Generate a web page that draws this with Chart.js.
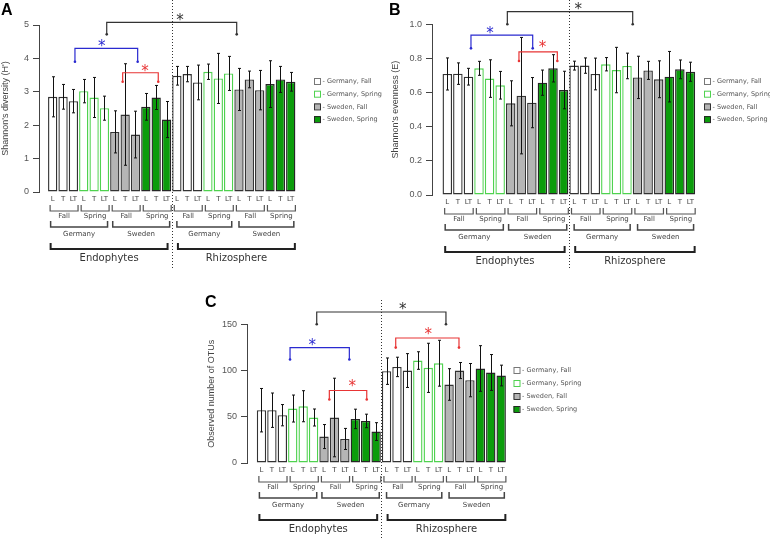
<!DOCTYPE html>
<html><head><meta charset="utf-8">
<script src="https://cdn.jsdelivr.net/npm/chart.js@4.4.1/dist/chart.umd.min.js"></script>
<style>
html,body{margin:0;padding:0;background:#fff;width:770px;height:538px;overflow:hidden}
.p{position:absolute}
canvas{display:block}
</style></head><body>
<div class="p" style="left:0;top:0"><canvas id="cA" width="385" height="270"></canvas></div>
<div class="p" style="left:385px;top:0"><canvas id="cB" width="385" height="270"></canvas></div>
<div class="p" style="left:150px;top:270px"><canvas id="cC" width="450" height="268"></canvas></div>
<script>
// ---------- data ----------
const tickLabels = ['L','T','LT','L','T','LT','L','T','LT','L','T','LT','L','T','LT','L','T','LT','L','T','LT','L','T','LT'];
const seriesNames = ['Germany, Fall','Germany, Spring','Sweden, Fall','Sweden, Spring'];
const seasonLabels = ['Fall','Spring','Fall','Spring','Fall','Spring','Fall','Spring'];
const countryLabels = ['Germany','Sweden','Germany','Sweden'];
const compartmentLabels = ['Endophytes','Rhizosphere'];

const shannonH   = [2.85,2.85,2.72, 3.02,2.83,2.51, 1.80,2.32,1.72, 2.55,2.83,2.17, 3.48,3.53,3.28, 3.60,3.40,3.55, 3.07,3.37,3.05, 3.23,3.37,3.30];
const shannonHSd = [0.60,0.37,0.35, 0.35,0.60,0.36, 0.63,1.52,0.70, 0.40,0.36,0.54, 0.28,0.23,0.52, 0.23,0.75,0.51, 0.63,0.25,0.59, 0.70,0.39,0.28];

const evenness   = [0.709,0.711,0.693, 0.742,0.682,0.643, 0.537,0.582,0.541, 0.658,0.742,0.615, 0.758,0.758,0.709, 0.766,0.732,0.756, 0.689,0.730,0.678, 0.693,0.736,0.722];
const evennessSd = [0.094,0.063,0.049, 0.041,0.110,0.081, 0.132,0.341,0.147, 0.074,0.080,0.110, 0.026,0.045,0.093, 0.039,0.133,0.075, 0.124,0.053,0.108, 0.148,0.055,0.056];

const otus   = [57.1,57.1,51.7, 58.9,61.4,49.2, 28.6,49.2,26.0, 47.7,45.5,34.0, 99.3,103.9,100.0, 110.8,102.9,107.9, 84.9,100.0,89.6, 102.2,97.9,94.6];
const otusSd = [23.5,18.6,11.5, 14.6,16.8,9.2, 13.0,42.5,11.4, 10.5,7.3,9.6, 14.3,10.5,18.3, 9.5,26.6,24.8, 17.1,8.7,18.0, 24.7,19.4,11.2];

// significance brackets: [fromIndex, toIndex, lineValue, tipValue, starIndex, starValue, colour]
const sigA = [[5.22,17.78,5.08,4.72,12.3,5.2,'#333'],[2.15,8.21,4.30,3.90,4.73,4.42,'#2a2ad0'],[6.76,10.2,3.57,3.30,8.92,3.68,'#e83535']];
const sigB = [[5.68,17.54,1.074,1.0,12.4,1.103,'#333'],[2.24,8.08,0.937,0.859,4.04,0.963,'#2a2ad0'],[6.78,10.41,0.839,0.785,9.0,0.879,'#e83535']];
const sigC = [[5.3,17.7,163.3,150,13.55,168.7,'#333'],[2.74,8.43,124.8,111.9,4.88,129.8,'#2a2ad0'],[6.51,10.1,78.4,68.7,8.72,84.9,'#e83535'],[12.88,18.95,135.2,124.8,16.0,141.7,'#e83535']];

// ---------- styles ----------
const fills   = ['#ffffff','#ffffff','#b5b5b5','#0b9c0b'];
const borders = ['#333333','#4fd24f','#333333','#262626'];

const panels = [
  {id:'cA', letter:'A', values:shannonH, sd:shannonHSd, sig:sigA, yTitle:"Shannon's diversity (H')", yMax:5, step:1, dec:0,
   L:{padLeft:0, yW:39, xMin:-1.324, padRight:89.1, top:25, xH:78, dotTop:0, dotBot:268, legX:314, legY:81, legStep:12.7, letterX:1, letterY:11}},
  {id:'cB', letter:'B', values:evenness, sd:evennessSd, sig:sigB, yTitle:"Shannon's evenness (E)", yMax:1, step:0.2, dec:1,
   L:{padLeft:5.6, yW:41.4, xMin:-1.447, padRight:74.3, top:24.3, xH:75, dotTop:0, dotBot:268, legX:319, legY:81, legStep:12.7, letterX:4, letterY:11}},
  {id:'cC', letter:'C', values:otus, sd:otusSd, sig:sigC, yTitle:'Observed number of OTUs', yMax:150, step:50, dec:0,
   L:{padLeft:56.6, yW:40.4, xMin:-1.39, padRight:93.6, top:54.3, xH:75, dotTop:30, dotBot:268, legX:363.5, legY:100, legStep:13, letterX:55, letterY:33}}
];

function seriesOf(i){ return Math.floor((i % 12) / 3); }

function makePlugin(p){
  return {
    id:'annot'+p.letter,
    afterDatasetsDraw(chart){
      const ctx = chart.ctx, xs = chart.scales.x, ys = chart.scales.y, ca = chart.chartArea, L = p.L;
      ctx.save();
      // error bars
      ctx.strokeStyle = '#111'; ctx.lineWidth = 1;
      p.values.forEach((v,i)=>{
        const x = Math.round(xs.getPixelForValue(i)) + 0.5;
        const y1 = ys.getPixelForValue(v + p.sd[i]), y2 = ys.getPixelForValue(Math.max(0, v - p.sd[i]));
        ctx.beginPath();
        ctx.moveTo(x, y1); ctx.lineTo(x, y2);
        ctx.moveTo(x-1.5, y1); ctx.lineTo(x+1.5, y1);
        ctx.moveTo(x-1.5, y2); ctx.lineTo(x+1.5, y2);
        ctx.stroke();
      });
      // dotted separator
      const xd = Math.round(xs.getPixelForValue(11.5)) + 0.5;
      ctx.strokeStyle = '#333'; ctx.setLineDash([1,2]);
      ctx.beginPath(); ctx.moveTo(xd, L.dotTop); ctx.lineTo(xd, L.dotBot); ctx.stroke();
      ctx.setLineDash([]);
      // significance brackets
      p.sig.forEach(s=>{
        const [a,b,lv,tv,sx,sv,col] = s;
        const x1 = xs.getPixelForValue(a), x2 = xs.getPixelForValue(b);
        const yl = ys.getPixelForValue(lv), yt = ys.getPixelForValue(tv);
        ctx.strokeStyle = col; ctx.fillStyle = col; ctx.lineWidth = 1.2;
        ctx.beginPath(); ctx.moveTo(x1, yt); ctx.lineTo(x1, yl); ctx.lineTo(x2, yl); ctx.lineTo(x2, yt); ctx.stroke();
        [x1,x2].forEach(x=>{ ctx.beginPath(); ctx.arc(x, yt, 1.3, 0, Math.PI*2); ctx.fill(); });
        ctx.font = '15px "DejaVu Sans"'; ctx.textAlign = 'center'; ctx.textBaseline = 'middle';
        ctx.fillText('*', xs.getPixelForValue(sx), ys.getPixelForValue(sv) + 3);
      });
      // group brackets below axis
      const yb = ca.bottom;
      const bracket = (a,b,yTop,yBot,col,w)=>{
        const x1 = xs.getPixelForValue(a), x2 = xs.getPixelForValue(b);
        ctx.strokeStyle = col; ctx.lineWidth = w;
        ctx.beginPath(); ctx.moveTo(x1, yb+yTop); ctx.lineTo(x1, yb+yBot); ctx.lineTo(x2, yb+yBot); ctx.lineTo(x2, yb+yTop); ctx.stroke();
      };
      const label = (t, a, b, yOff, font, col)=>{
        ctx.font = font; ctx.fillStyle = col; ctx.textAlign = 'center'; ctx.textBaseline = 'middle';
        ctx.fillText(t, (xs.getPixelForValue(a) + xs.getPixelForValue(b)) / 2, yb + yOff);
      };
      seasonLabels.forEach((t,g)=>{
        const a = g*3 - 0.25, b = g*3 + 2.45;
        bracket(a, b, 13, 19, '#555', 1.2);
        label(t, a, b, 24.5, '7px "DejaVu Sans"', '#444');
      });
      countryLabels.forEach((t,g)=>{
        const a = g*6 - 0.2 + (g>=2 ? 0.2 : 0), b = g*6 + 5.3;
        bracket(a, b, 29, 35, '#444', 1.5);
        label(t, a, b, 42.5, '7px "DejaVu Sans"', '#444');
      });
      compartmentLabels.forEach((t,g)=>{
        const a = g*12 - 0.2 + (g ? 0.3 : 0), b = g*12 + 11.1 + (g ? 0.3 : 0);
        bracket(a, b, 51, 57, '#222', 2);
        label(t, a, b, 66.5, '10px "DejaVu Sans"', '#333');
      });
      // legend
      seriesNames.forEach((n,s)=>{
        const y = L.legY + s*L.legStep;
        ctx.fillStyle = fills[s]; ctx.fillRect(L.legX, y-3, 6, 6);
        ctx.strokeStyle = s===0 ? '#777' : borders[s]; ctx.lineWidth = 1;
        ctx.strokeRect(L.legX+0.5, y-2.5, 6, 6);
        ctx.font = '6.5px "DejaVu Sans"'; ctx.fillStyle = '#555'; ctx.textAlign = 'left'; ctx.textBaseline = 'middle';
        ctx.fillText('- ' + n, L.legX + 8.5, y + 0.5);
      });
      // panel letter
      ctx.font = 'bold 16px "Liberation Sans"'; ctx.fillStyle = '#000'; ctx.textAlign = 'left'; ctx.textBaseline = 'middle';
      ctx.fillText(p.letter, L.letterX, L.letterY);
      ctx.restore();
    }
  };
}

panels.forEach(p=>{
  const L = p.L;
  const datasets = seriesNames.map((name,s)=>({
    label:name,
    data: p.values.map((v,i)=>({x:i, y:v})).filter((d,i)=>seriesOf(i)===s),
    backgroundColor: fills[s], borderColor: borders[s], borderWidth: 1.4,
    borderSkipped:false, grouped:false, barPercentage:0.9, categoryPercentage:1
  }));
  new Chart(document.getElementById(p.id), {
    type:'bar',
    data:{datasets},
    options:{
      responsive:false, animation:false, events:[],
      layout:{padding:{left:L.padLeft, right:L.padRight, top:L.top, bottom:0}},
      plugins:{legend:{display:false}, tooltip:{enabled:false}},
      scales:{
        x:{type:'linear', min:L.xMin, max:23.5, offset:false,
           grid:{display:false, drawTicks:false}, border:{display:false},
           afterBuildTicks: sc => { sc.ticks = tickLabels.map((_,i)=>({value:i})); },
           ticks:{autoSkip:false, maxRotation:0, minRotation:0, padding:3, color:'#444',
                  font:{family:'DejaVu Sans', size:7}, callback:(v)=>tickLabels[Math.round(v)]},
           afterFit: sc => { sc.height = L.xH; }},
        y:{min:0, max:p.yMax,
           ticks:{stepSize:p.step, padding:4, color:'#555', font:{family:'Liberation Sans', size:9},
                  callback:(v)=>Number(v).toFixed(p.dec)},
           grid:{display:true, drawOnChartArea:false, drawTicks:true, tickLength:6, color:'#444'},
           border:{display:true, color:'#444'},
           title:{display:true, text:p.yTitle, color:'#444', padding:0, font:{family:'Liberation Sans', size:9}},
           afterFit: sc => { sc.width = L.yW; }}
      }
    },
    plugins:[makePlugin(p)]
  });
});
</script>
</body></html>
